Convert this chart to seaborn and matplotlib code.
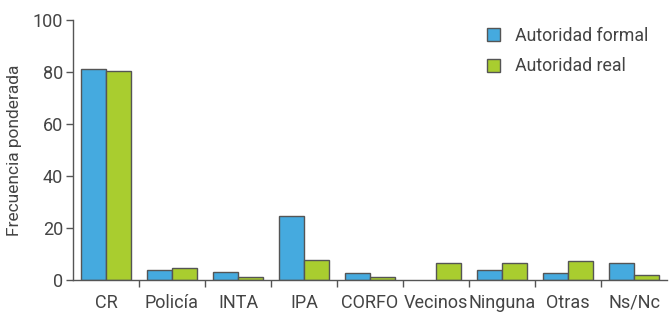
import matplotlib

matplotlib.use("Agg")

import matplotlib.pyplot as plt
import seaborn as sns
import pandas as pd

# -----------------------------
# Data
# -----------------------------
categorias = ["CR", "Policía", "INTA", "IPA", "CORFO", "Vecinos", "Ninguna", "Otras", "Ns/Nc"]
autoridad_formal = [81, 3.8, 2.9, 24.6, 2.8, 0, 3.8, 2.8, 6.4]
autoridad_real = [80.2, 4.7, 1.2, 7.6, 1.1, 6.4, 6.4, 7.4, 1.9]
series = ["Autoridad formal", "Autoridad real"]
colores = ["#45aadf", "#a9cd2f"]

df = pd.DataFrame({
    "categoria": categorias * 2,
    "valor": autoridad_formal + autoridad_real,
    "serie": [series[0]] * len(categorias) + [series[1]] * len(categorias),
})

# -----------------------------
# Plot Style
# -----------------------------
sns.set_theme(style="white")
plt.rcParams["font.family"] = ["Roboto", "DejaVu Sans"]
TXT = "#444444"
LINE = "#555555"

fig = plt.figure(figsize=(6.69, 3.13), dpi=100)
ax = fig.add_axes([73 / 669, 1 - 280 / 313, 594 / 669, 260 / 313])

sns.barplot(
    data=df,
    x="categoria",
    y="valor",
    hue="serie",
    palette=colores,
    saturation=1,
    width=0.76,
    edgecolor=LINE,
    linewidth=1,
    ax=ax,
)

# no outline on empty bars
for bar in ax.patches:
    if bar.get_height() == 0:
        bar.set_linewidth(0)

ax.set_xlim(-0.5, len(categorias) - 0.5)
ax.set_ylim(0, 100)
ax.set_yticks([0, 20, 40, 60, 80, 100])
ax.set_xlabel("")
ax.set_ylabel("Frecuencia ponderada", fontsize=12.5, color=TXT, labelpad=8)

ax.set_xticks([i + 0.5 for i in range(len(categorias) - 1)], minor=True)
ax.tick_params(axis="x", which="major", length=0, pad=10, labelsize=13, colors=TXT)
ax.tick_params(axis="x", which="minor", length=5, width=1, color=LINE, direction="out", bottom=True)
ax.tick_params(axis="y", length=5, width=1, color=LINE, direction="out", left=True,
               labelsize=13, labelcolor=TXT, pad=2)

for side in ["top", "right"]:
    ax.spines[side].set_visible(False)
for side in ["left", "bottom"]:
    ax.spines[side].set_color(LINE)
    ax.spines[side].set_linewidth(1)

leg = ax.legend(
    loc="upper left",
    bbox_to_anchor=(0.67, 1.035),
    frameon=False,
    fontsize=12.8,
    handlelength=0.75,
    handleheight=0.75,
    handletextpad=0.8,
    labelspacing=0.7,
)
for h in leg.legend_handles:
    h.set_edgecolor(LINE)
    h.set_linewidth(1)
for t in leg.get_texts():
    t.set_color(TXT)

plt.savefig("out.png", dpi=100)
plt.close()
